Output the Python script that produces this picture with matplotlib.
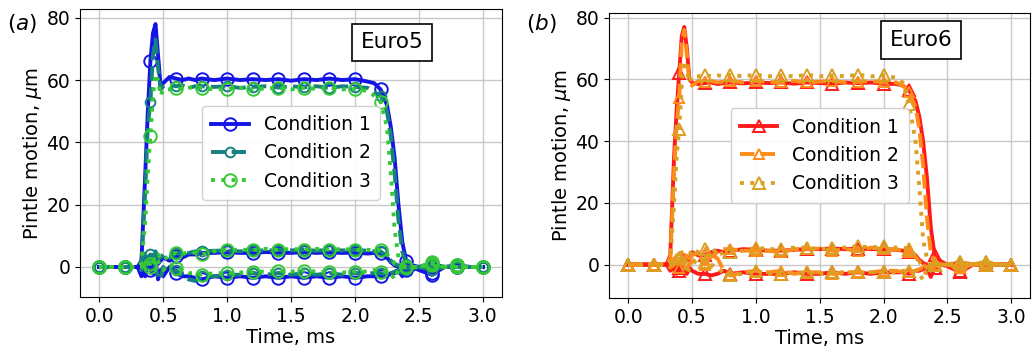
import numpy as np
import matplotlib
matplotlib.use("Agg")
import matplotlib.pyplot as plt

plt.rcParams["font.family"] = "DejaVu Sans"
plt.rcParams["font.size"] = 13.5

# time samples, ms
time_ms = [0.0, 0.2, 0.30, 0.33, 0.36, 0.38, 0.40, 0.42, 0.44, 0.46,
           0.48, 0.50, 0.55, 0.60, 0.65, 0.70, 0.75, 0.80, 0.90, 1.00,
           1.10, 1.20, 1.30, 1.40, 1.50, 1.60, 1.70, 1.80, 1.90, 2.00,
           2.10, 2.15, 2.20, 2.25, 2.28, 2.31, 2.34, 2.37, 2.40, 2.45,
           2.50, 2.60, 2.70, 2.80, 2.90, 3.00]

conditions = ["Condition 1", "Condition 2", "Condition 3"]

# ---- Euro5: lift, radial x, radial y per condition ----
e5_lift = [
    [0, 0, 0, 2, 30, 50, 66, 75, 78, 68, 58, 59, 61, 60.5, 60, 60.5, 60, 60.5, 60, 60.5,
     60, 60.3, 60, 60.3, 59.8, 60.3, 60, 60.5, 60, 60.3, 59.5, 59, 57, 52, 45, 35, 20, 8, 2, 0.5,
     0, -2, 0, 0, 0, 0],
    [0, 0, 0, 1, 25, 45, 53, 68, 73, 64, 57, 58, 58.5, 58, 58.3, 57.5, 58, 58, 57.8, 58,
     57.5, 57.8, 58, 57.6, 58, 57.7, 58, 57.5, 58, 57.8, 57.5, 56, 55, 50, 42, 30, 15, 5, 1, 0,
     0, -1, 0, 0, 0, 0],
    [0, 0, 0, 1, 15, 30, 42, 55, 62, 60, 55, 57, 57, 57.5, 57, 57.5, 57.8, 57.5, 57, 57.2,
     57.5, 57, 57.3, 57.5, 57, 57.5, 57.2, 57.5, 57, 57.2, 56.5, 55, 53, 45, 30, 12, 3, 1, 0, 0,
     0, 1, 0, 0.5, 0, 0],
]
e5_x = [
    [0, 0, 0, -2, -3, 1, 2, -1, 3, 1, 2, 3, 2, 3.5, 3, 4, 4, 4.5, 4.5, 4.8,
     4.5, 4.5, 4.8, 4.6, 4.5, 4.8, 4.5, 4.7, 4.5, 4.6, 4.3, 4.5, 4.5, 3, 1.5, 0.5, 0, -0.5, 0, -1,
     0, 1, 0, 0.5, 0, 0],
    [0, 0, 0, 1, 5, 3, 4, 2, 5, 3, 3, 4, 3, 4.5, 4, 4.5, 5, 5, 5.2, 5.3,
     5, 5.5, 5.2, 5.5, 5.3, 5.5, 5.2, 5.5, 5.3, 5.5, 5.2, 5, 5, 3.5, 2, 1, 0.5, 0, 0, -0.5,
     0, 0.5, 0, 0, 0, 0],
    [0, 0, 0, 1, 2, 1, 1, 3, 2, 4, 3, 2, 4, 4.5, 4, 5, 4.5, 4, 5, 5.5,
     5.5, 5.5, 5.8, 5.5, 5.8, 5.5, 5.8, 5.5, 5.8, 5.5, 5.5, 5.3, 5.5, 4, 3, 1, 0.5, 0, 0, 0,
     0, 1.5, 0, 0.5, 0, 0],
]
e5_y = [
    [0, 0, 0, -3, 1, 0, -1, -2, 2, -4, -1, -3, 0, -2, -3, -3, -3.5, -4, -3, -3.5,
     -3, -3.5, -3, -3.5, -3, -3.5, -3, -3.5, -3, -3.5, -3, -3, -3, -3, -2, -2, -1, -3, -1, 0,
     -1, -2.5, 0, 0, 0, 0],
    [0, 0, 0, -1, 0, 3, 1, 4, 0, -3, -4, 0, -2, -1, -3, -4, -4.5, -3, -3, -2.5,
     -2.5, -2, -2.5, -2, -2.5, -2, -2.5, -2, -2.5, -2, -2, -2, -2, -2.5, -2, -1.5, -1, -2, -1, 0,
     0, -1, 0, 0, 0, 0],
    [0, 0, 0, 0, 1, 2, 0, 1, 3, 2, 0, -1, 1, -0.5, -1, -2, -2, -2.5, -2, -2,
     -1.8, -1.5, -1.5, -1.2, -1.5, -1.2, -1.5, -1.5, -1.8, -1.5, -1.5, -1, -1.5, -1.5, -2, -4, -1, 0, 0, 0,
     0, 0.5, 0, 0, 0, 0],
]

# ---- Euro6 ----
e6_lift = [
    [0, 0, 0, 3, 35, 50, 62, 74, 77, 70, 60, 59, 58.5, 58.8, 59, 58.5, 58.8, 59, 58.7, 59,
     58.8, 59, 58.6, 59, 58.8, 58.6, 59, 58.8, 59, 58.6, 58.5, 58, 56.5, 53, 48, 40, 28, 12, 3, 1,
     0, -2, 0, 0, 0, 0],
    [0, 0, 0, 2, 30, 45, 54, 72, 76, 68, 59, 58, 59.5, 59, 59.5, 59, 59.3, 59.5, 59, 59.5,
     59.2, 59, 59.5, 59, 59.3, 59.5, 59, 59.2, 59.5, 59, 59, 58, 56, 51, 44, 32, 15, 4, 1, 0,
     0, -1, 0, 0.5, 0, 0],
    [0, 0, 0, 1, 20, 35, 44, 58, 66, 63, 59, 61, 61, 61.5, 61, 61.3, 61, 61.5, 61, 61.5,
     61, 61.3, 61, 61.5, 61, 61.3, 61, 61.5, 61, 61.3, 60.5, 59, 52, 40, 25, 8, 2, 0, 0, 0,
     0, 1, 0, 1, 0, 0],
]
e6_x = [
    [0, 0, 0, -1, 1, -2, -1, 2, 3, 1, 2, 4, 3, 3, 4, 4.5, 4, 4.5, 5, 4.8,
     4.5, 4.5, 4.8, 5, 5, 5.2, 5, 5.2, 5, 5, 4.8, 4.5, 4, 3, 1.5, 0.5, 0, -3, -1, 0,
     0, 0.5, 0, 0, 0, 0],
    [0, 0, 0, 0, 2, 1, 2, 3, 1, 4, 2, 3, 4, 3.5, 2.5, 4, 5, 5, 4.5, 4.5,
     4.5, 4, 5, 5, 5.2, 4.5, 5, 4.5, 5.5, 5, 5, 4.5, 4, 2.5, 1, 0, -1, 0, 0, 0,
     0, -0.5, 0, 0, 0, 0],
    [0, 0, 0, 0, 1, 3, 2, 4, 2, 1, 3, 5, 4, 5, 6, 3, 4, 4, 4.5, 5.5,
     5, 5, 5.5, 5.5, 5, 5.5, 5.5, 6, 5.5, 6, 5.5, 5.5, 5, 3, 1, -1, -1, 0, 0, 0,
     0, 1, 0, 1, 0, 0],
]
e6_y = [
    [0, 0, 0, -2, -1, -3, -2, 0, -2, -3, -1, -2, -3, -3, -3.5, -3, -2, -3, -2.5, -3,
     -3, -3, -2.5, -3, -3, -2.5, -3, -2.5, -3, -2.5, -2.5, -2.5, -3, -2, -2, -1.5, -1, -4, -1, 0,
     -0.5, -2.5, 0, 0, 0, 0],
    [0, 0, 0, -1, 0, 1, -1, 2, -2, -1, 0, 1, 2, 0, 3, 2, -2, -3.5, -2.5, -2,
     -2.5, -2, -3, -2.5, -2.5, -3, -2.5, -2.5, -2.5, -2, -2, -2.5, -2.5, -2, -1.5, -1, -1, -2, -0.5, 0,
     0, -1, 0, 0, 0, 0],
    [0, 0, 0, 0, 2, 0, 2, 1, -1, -3, -1, 0, 2, 1, 0, -1, -3, -3.5, -3, -2,
     -3, -3, -2.5, -2.5, -3, -2.5, -2.5, -2.5, -2.5, -2.5, -2.5, -2, -2, -2.5, -3, -5, -1, 0, 0, 0,
     0, 0.5, 0, 0, 0, 0],
]

e5_colors = ["#1414e6", "#178080", "#36c936"]
e6_colors = ["#ff1a1a", "#ff8c1a", "#d9a023"]
styles = ["-", "--", ":"]
marker_sizes = [9, 7, 9]

t = np.array(time_ms)
mark_idx = [i for i, v in enumerate(time_ms) if abs(v / 0.2 - round(v / 0.2)) < 1e-6]

fig = plt.figure(figsize=(10.33, 3.62), dpi=100)
ax1 = fig.add_axes([0.0775, 0.180, 0.4085, 0.795])
ax2 = fig.add_axes([0.5895, 0.177, 0.408, 0.787])


def draw(ax, lifts, xs, ys, colors, marker):
    for k in range(3):
        kw = dict(color=colors[k], linestyle=styles[k], linewidth=2.8,
                  marker=marker, markersize=marker_sizes[k], markerfacecolor="none",
                  markeredgewidth=1.4, markevery=mark_idx)
        ax.plot(t, ys[k], **kw)
        ax.plot(t, xs[k], **kw)
        ax.plot(t, lifts[k], label=conditions[k], **kw)
    ax.grid(True, color="#c8c8c8", linewidth=1.0)
    ax.set_axisbelow(True)
    ax.set_xlim(-0.15, 3.15)
    ax.set_xticks([0.0, 0.5, 1.0, 1.5, 2.0, 2.5, 3.0])
    ax.set_xlabel("Time, ms", fontsize=14, labelpad=2)
    ax.set_ylabel(r"Pintle motion, $\mu$m", fontsize=14, labelpad=2)
    ax.legend(loc="center", framealpha=0.9, handlelength=2.0, fontsize=13.5,
              borderpad=0.5)


draw(ax1, e5_lift, e5_x, e5_y, e5_colors, "o")
draw(ax2, e6_lift, e6_x, e6_y, e6_colors, "^")
ax1.set_ylim(-9.6, 82.8)
ax2.set_ylim(-10.8, 81.5)
ax1.set_yticks([0, 20, 40, 60, 80])
ax2.set_yticks([0, 20, 40, 60, 80])

box = dict(boxstyle="square,pad=0.4", facecolor="white", edgecolor="black", linewidth=1.2)
ax1.text(0.74, 0.885, "Euro5", transform=ax1.transAxes, ha="center", va="center",
         fontsize=15.5, bbox=box)
ax2.text(0.74, 0.905, "Euro6", transform=ax2.transAxes, ha="center", va="center",
         fontsize=15.5, bbox=box)

fig.text(0.007, 0.935, r"($\mathit{a}$)", fontsize=15.5, va="center")
fig.text(0.509, 0.935, r"($\mathit{b}$)", fontsize=15.5, va="center")

fig.savefig("out.png", dpi=100)
